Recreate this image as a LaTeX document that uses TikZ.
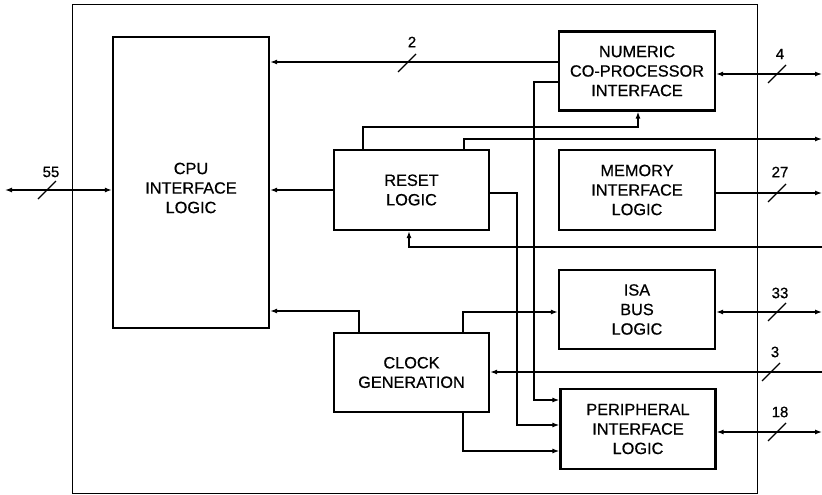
\documentclass[tikz,border=0pt]{standalone}
\usepackage{fontspec}
\setmainfont{Liberation Sans}
\newfontfamily\diagfont[FakeBold=0.6]{Liberation Sans}
\usetikzlibrary{arrows.meta,calc}
\begin{document}
\begin{tikzpicture}[x=1pt,y=-1pt,
  blk/.style={draw,line width=2.2pt,align=center,inner sep=0pt,
    font=\diagfont\fontsize{16.3}{19.5}\selectfont},
  lbltxt/.style={align=center,inner sep=0pt,font=\diagfont\fontsize{16.3}{19.5}\selectfont},
  wire/.style={line width=1.3pt},
  arr/.style={wire,-{Latex[length=7pt,width=5pt]}},
  biarr/.style={wire,{Latex[length=7pt,width=5pt]}-{Latex[length=7pt,width=5pt]}},
  buslbl/.style={font=\diagfont\fontsize{15}{17}\selectfont,inner sep=0pt}]
\useasboundingbox (0,0) rectangle (822,495);
% outer frame
\draw[line width=1pt] (72,5) rectangle (757,493);
% blocks
\node[blk,minimum width=156pt,minimum height=291pt,
  label={[lbltxt,yshift=-5.5pt]center:CPU\\INTERFACE\\LOGIC}] (cpu) at (191,182.5) {};
\node[blk,minimum width=156pt,minimum height=79pt] (num) at (637,71) {NUMERIC\\CO-PROCESSOR\\INTERFACE};
\node[blk,minimum width=155pt,minimum height=80pt] (rst) at (411.5,190) {RESET\\LOGIC};
\node[blk,minimum width=156pt,minimum height=80pt] (mem) at (637,190) {MEMORY\\INTERFACE\\LOGIC};
\node[blk,minimum width=156pt,minimum height=79pt] (isa) at (637,309.5) {ISA\\BUS\\LOGIC};
\node[blk,minimum width=155pt,minimum height=79pt] (clk) at (411.5,372.5) {CLOCK\\GENERATION};
\node[blk,minimum width=155pt,minimum height=80pt] (per) at (638,429) {PERIPHERAL\\INTERFACE\\LOGIC};
% external ends
\coordinate (x55) at (5,190);
\coordinate (x4) at (822,74);
\coordinate (xr) at (822,139);
\coordinate (x27) at (822,193);
\coordinate (xin) at (822,247);
\coordinate (x33) at (822,312);
\coordinate (x3) at (822,372);
\coordinate (x18) at (822,432);
% bus slashes and labels
\foreach \cx/\cy/\lx/\ly/\t in {407/63/412/42/2, 47/190/51/172/55, 777/74/780/54/4,
   777/193/780/172/27, 771/372/775/352/3, 777/312/780/293/33, 777/432/780/412/18}{
  \draw[wire] (\cx-9,\cy+9) -- (\cx+9,\cy-9);
  \node[buslbl] at (\lx,\ly) {\t};
}
% connectors
\draw[arr] (num.west |- 0,62) -- (cpu.east |- 0,62);
\draw[biarr] (x55) -- (cpu.west |- x55);
\draw[arr] (rst.west) -- (cpu.east |- rst.west);
\draw[arr] (rst.north -| 363,0) -- (363,127) -- (638,127) -- (num.south -| 638,0);
\draw[arr] (rst.north -| 464,0) -- (464,139) -- (xr);
\draw[biarr] (num.east |- x4) -- (x4);
\draw[arr] (mem.east |- x27) -- (x27);
\draw[arr] (xin) -- (409,247) -- (rst.south -| 409,0);
\draw[arr] (rst.east |- 0,193) -- (517,193) -- (517,425) -- (per.west |- 0,425);
\draw[arr] (num.west |- 0,82) -- (534,82) -- (534,400) -- (per.west |- 0,400);
\draw[arr] (clk.north -| 463,0) -- (463,312) -- (isa.west |- 0,312);
\draw[arr] (clk.north -| 359,0) -- (359,311) -- (cpu.east |- 0,311);
\draw[arr] (x3) -- (clk.east |- x3);
\draw[arr] (clk.south -| 463,0) -- (463,451) -- (per.west |- 0,451);
\draw[biarr] (isa.east |- x33) -- (x33);
\draw[biarr] (per.east |- x18) -- (x18);
\end{tikzpicture}
\end{document}
